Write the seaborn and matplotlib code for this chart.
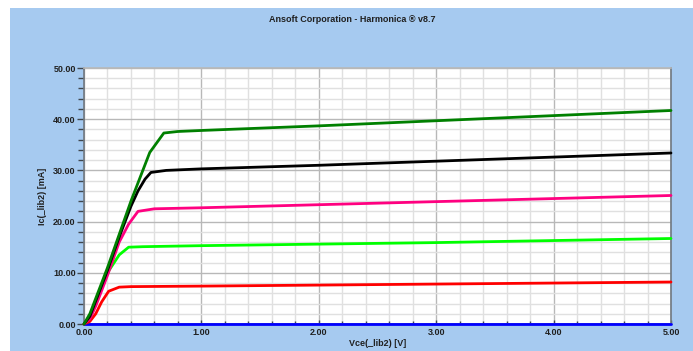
import numpy as np
import pandas as pd
import matplotlib
matplotlib.use("Agg")
import matplotlib.pyplot as plt
from matplotlib.patches import Rectangle
from matplotlib.ticker import MultipleLocator, FormatStrFormatter
import seaborn as sns

# Collector current curves Ic vs Vce, one per base drive step
blue_v = [0.0, 5.0]
blue_i = [0.0, 0.0]

red_v = [0.0, 0.05, 0.10, 0.15, 0.21, 0.30, 0.40, 1.0, 2.0, 3.0, 4.0, 5.0]
red_i = [0.0, 0.5, 2.0, 4.3, 6.4, 7.2, 7.3, 7.4, 7.6, 7.8, 8.0, 8.2]

lime_v = [0.0, 0.05, 0.10, 0.20, 0.30, 0.38, 0.50, 1.0, 2.0, 3.0, 4.0, 5.0]
lime_i = [0.0, 1.2, 4.0, 10.0, 13.5, 15.0, 15.1, 15.3, 15.6, 15.9, 16.3, 16.7]

pink_v = [0.0, 0.05, 0.10, 0.20, 0.30, 0.38, 0.46, 0.60, 1.0, 2.0, 3.0, 4.0, 5.0]
pink_i = [0.0, 1.0, 3.5, 9.5, 16.0, 19.5, 22.0, 22.5, 22.7, 23.3, 23.9, 24.5, 25.1]

black_v = [0.0, 0.05, 0.10, 0.20, 0.30, 0.40, 0.46, 0.52, 0.57, 0.70, 1.0, 2.0, 3.0, 4.0, 5.0]
black_i = [0.0, 1.5, 4.5, 10.5, 17.0, 23.0, 26.0, 28.3, 29.6, 30.0, 30.3, 31.0, 31.8, 32.6, 33.4]

green_v = [0.0, 0.05, 0.10, 0.20, 0.30, 0.40, 0.56, 0.68, 0.80, 1.0, 2.0, 3.0, 4.0, 5.0]
green_i = [0.0, 2.0, 5.0, 11.0, 17.5, 24.0, 33.5, 37.3, 37.6, 37.8, 38.7, 39.7, 40.7, 41.7]

x_ticks = [0.0, 1.0, 2.0, 3.0, 4.0, 5.0]
y_ticks = [0.0, 10.0, 20.0, 30.0, 40.0, 50.0]

curves = [
    ("blue", blue_v, blue_i, "#0000FF"),
    ("red", red_v, red_i, "#FF0000"),
    ("lime", lime_v, lime_i, "#00FF00"),
    ("pink", pink_v, pink_i, "#FF0080"),
    ("black", black_v, black_i, "#000000"),
    ("green", green_v, green_i, "#008000"),
]

frames = []
for name, v, i, _ in curves:
    frames.append(pd.DataFrame({"Vce": v, "Ic": i, "curve": name}))
df = pd.concat(frames, ignore_index=True)
palette = {name: color for name, _, _, color in curves}

sns.set_theme(style="white")
plt.rcParams["font.family"] = ["Liberation Sans", "DejaVu Sans"]

W, H = 693, 351
fig = plt.figure(figsize=(W / 100, H / 100), dpi=100, facecolor="white")

# Sky-blue panel behind the plot
fig.patches.append(Rectangle((10 / W, 0), 1 - 10 / W, 1 - 8 / H,
                             transform=fig.transFigure, facecolor="#A6CAF0",
                             edgecolor="none", zorder=-10))

ax = fig.add_axes([84 / W, 1 - 324 / H, (671 - 84) / W, (324 - 68) / H])
ax.set_facecolor("white")

sns.lineplot(data=df, x="Vce", y="Ic", hue="curve", palette=palette,
             hue_order=[c[0] for c in curves], sort=False, estimator=None,
             linewidth=2.0, legend=False, ax=ax)
for line in ax.lines:
    line.set_clip_on(False)
    line.set_zorder(4)

ax.set_xlim(0, 5)
ax.set_ylim(0, 50)
ax.set_xticks(x_ticks)
ax.set_yticks(y_ticks)
ax.xaxis.set_minor_locator(MultipleLocator(0.2))
ax.yaxis.set_minor_locator(MultipleLocator(2))
ax.xaxis.set_major_formatter(FormatStrFormatter("%.2f"))
ax.yaxis.set_major_formatter(FormatStrFormatter("%.2f"))

ax.grid(which="major", color="#B8B8B8", linewidth=1.0)
ax.grid(which="minor", color="#E0E0E0", linewidth=1.0)
ax.set_axisbelow(True)

for side in ["left", "bottom", "right", "top"]:
    ax.spines[side].set_visible(True)
    ax.spines[side].set_color("#707880")
    ax.spines[side].set_linewidth(1.2)
ax.spines["top"].set_color("#B8B8B8")

ax.tick_params(axis="y", which="major", direction="out", length=5, width=1,
               color="#404850", labelsize=6.5, pad=1, left=True)
ax.tick_params(axis="y", which="minor", direction="out", length=4, width=1,
               color="#404850", left=True)
ax.tick_params(axis="x", which="major", direction="in", length=3, width=1,
               color="#404850", labelsize=6.5, pad=3, bottom=True)
ax.tick_params(axis="x", which="minor", direction="in", length=2, width=1,
               color="#404850", bottom=True)
for lbl in ax.get_xticklabels() + ax.get_yticklabels():
    lbl.set_fontweight("bold")
    lbl.set_color("#202020")

ax.set_xlabel("Vce(_lib2) [V]", fontsize=6.5, fontweight="bold", color="#202020",
              labelpad=1)
ax.set_ylabel("Ic(_lib2) [mA]", fontsize=6.5, fontweight="bold", color="#202020",
              labelpad=4)

fig.text(352 / W, 1 - 20 / H, "Ansoft Corporation - Harmonica \u00ae v8.7",
         ha="center", va="center", fontsize=6.5, fontweight="bold", color="#202020")

fig.savefig("out.png", dpi=100, facecolor="white")
